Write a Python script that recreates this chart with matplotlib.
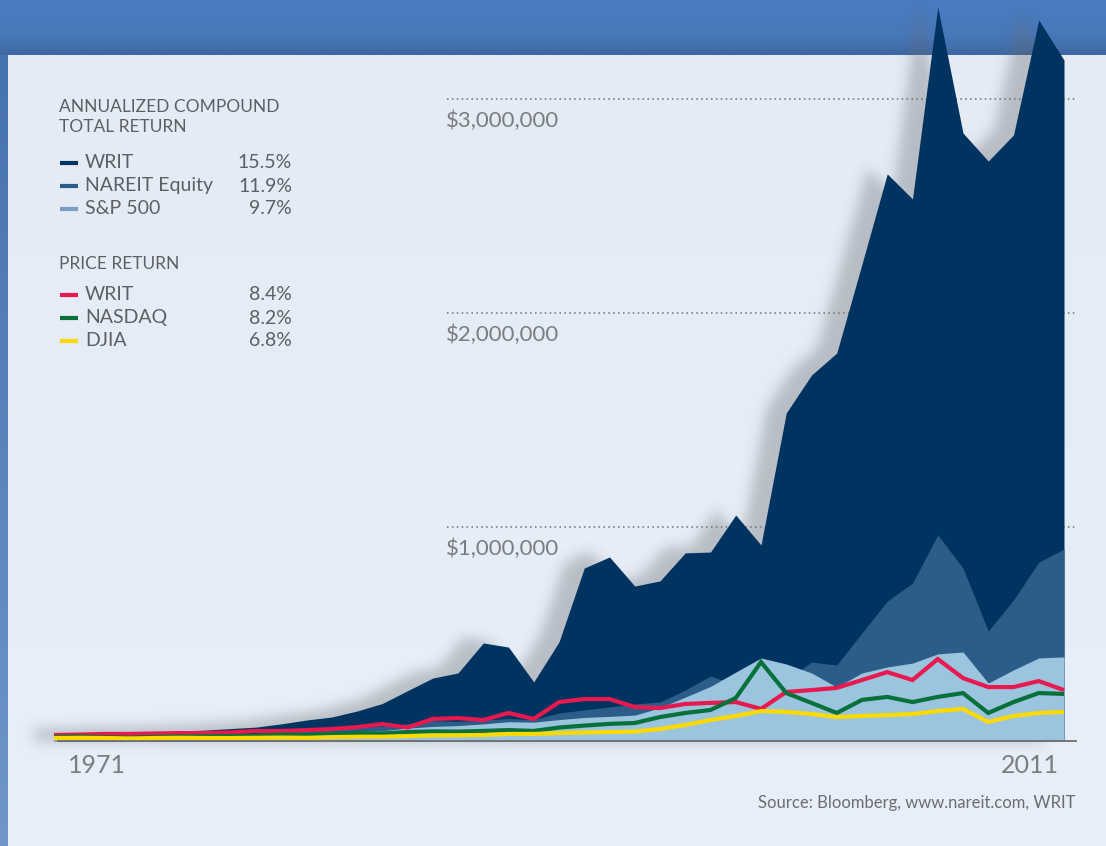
import numpy as np
import matplotlib
matplotlib.use("Agg")
import matplotlib.pyplot as plt
from matplotlib.lines import Line2D

plt.rcParams["font.family"] = ["Lato", "DejaVu Sans"]

# growth of an investment, thousands of dollars
years = list(range(1971, 2012))
writ_total = [33, 35, 37, 40, 42, 47, 51, 58, 65, 80,
              98, 112, 140, 175, 235, 294, 318, 458, 439, 276,
              463, 808, 860, 724, 748, 879, 883, 1056, 916, 1533,
              1710, 1813, 2229, 2650, 2533, 3430, 2841, 2710, 2832, 3369, 3182]
nareit = [20, 21, 19, 16, 19, 24, 27, 29, 35, 42,
          46, 53, 62, 70, 80, 95, 92, 98, 105, 100,
          131, 145, 159, 173, 182, 238, 304, 262, 238, 285,
          369, 355, 505, 654, 738, 963, 808, 514, 659, 836, 897]
sp500 = [20, 23, 20, 15, 20, 24, 23, 24, 27, 33,
         32, 38, 45, 48, 60, 68, 72, 80, 90, 88,
         100, 110, 115, 121, 155, 205, 255, 322, 388, 360,
         318, 252, 318, 346, 364, 407, 416, 271, 332, 388, 393]
writ_price = [28, 30, 33, 33, 35, 37, 37, 40, 47, 47,
              51, 56, 65, 79, 63, 103, 107, 98, 131, 103,
              182, 196, 196, 159, 154, 173, 178, 182, 150, 229,
              238, 248, 285, 322, 285, 383, 294, 252, 252, 280, 238]
nasdaq = [19, 21, 18, 16, 19, 21, 22, 23, 25, 30,
          28, 33, 37, 35, 42, 45, 44, 47, 51, 47,
          63, 72, 80, 84, 112, 131, 145, 201, 369, 224,
          178, 131, 192, 206, 182, 206, 224, 131, 182, 224, 220]
djia = [14, 15, 14, 12, 14, 15, 14, 14, 15, 16,
        15, 18, 20, 20, 23, 26, 27, 28, 33, 33,
        37, 40, 42, 44, 56, 75, 98, 117, 140, 136,
        126, 112, 117, 121, 126, 140, 150, 89, 117, 131, 136]

grid_values = [1000, 2000, 3000]
grid_labels = ["$1,000,000", "$2,000,000", "$3,000,000"]

total_names = ["WRIT", "NAREIT Equity", "S&P 500"]
total_rates = ["15.5%", "11.9%", "9.7%"]
price_names = ["WRIT", "NASDAQ", "DJIA"]
price_rates = ["8.4%", "8.2%", "6.8%"]

DARK = "#00335f"
MID = "#2b5d88"
LIGHT = "#9bc4de"
RED = "#e8194f"
GREEN = "#08703a"
YELLOW = "#fcd900"
TEXT = "#5c6066"

W, H = 1106, 846
fig = plt.figure(figsize=(W / 100, H / 100), dpi=100)


def fx(px):
    return px / W


def fy(py):
    return 1 - py / H


# ---- background: blue header, left strip, pale panel
bg = fig.add_axes([0, 0, 1, 1], zorder=0)
bg.set_xlim(0, W)
bg.set_ylim(H, 0)
bg.axis("off")

def vgrad(c0, c1, n):
    c0, c1 = np.array(c0) / 255, np.array(c1) / 255
    t = np.linspace(0, 1, n)[:, None]
    return (c0 + (c1 - c0) * t)[:, None, :]

bg.imshow(vgrad((229, 235, 245), (233, 239, 248), 200), extent=(0, W, H, 55),
          aspect="auto", interpolation="bilinear")
bg.imshow(vgrad((70, 114, 176), (110, 150, 200), 200), extent=(0, 8, H, 55),
          aspect="auto", interpolation="bilinear")
head = np.concatenate([vgrad((74, 124, 192), (72, 120, 186), 35),
                       vgrad((72, 120, 186), (62, 104, 162), 20)])
bg.imshow(head, extent=(0, W, 55, 0), aspect="auto", interpolation="bilinear")

# ---- chart axes covering the whole figure, mapped to pixel positions
px_year = 1010 / 40
px_k = 214 / 1000
ax = fig.add_axes([0, 0, 1, 1], zorder=1)
ax.patch.set_alpha(0)
ax.set_xlim(1971 - 54 / px_year, 1971 + (W - 54) / px_year)
ax.set_ylim(-(H - 741) / px_k, 741 / px_k)
ax.axis("off")

x_end = 1971 + (1077 - 54) / px_year
x_grid0 = 1971 + (447 - 54) / px_year
ax.hlines(grid_values, x_grid0, x_end, colors="#6f6f6f",
          linestyles=(0, (1, 2.2)), linewidth=1.1, zorder=2.5)
for v, lab in zip(grid_values, grid_labels):
    ax.text(x_grid0 - 0.05, v - 22 / px_k, lab, fontsize=16,
            color="#7a7d82", ha="left", va="center", zorder=1)


def blur_shadow(img, dpi):
    pad = 16
    a = np.pad(img[..., 3], pad)
    k = np.exp(-0.5 * (np.arange(-pad, pad + 1) / 4.5) ** 2)
    k /= k.sum()
    a = np.apply_along_axis(lambda r: np.convolve(r, k, mode="same"), 0, a)
    a = np.apply_along_axis(lambda r: np.convolve(r, k, mode="same"), 1, a)
    out = np.zeros(a.shape + (4,))
    out[..., 0] = 100 / 255
    out[..., 1] = 105 / 255
    out[..., 2] = 112 / 255
    out[..., 3] = np.clip(a * 0.6, 0, 1)
    return out, -pad, -pad


# drop shadow of the WRIT area, shifted left and up
yrs = np.array(years, dtype=float)
sh = ax.fill_between(yrs - 20 / px_year, 0, np.array(writ_total) + 6 / px_k,
                     color="k", lw=0, zorder=2, clip_on=False)
sh.set_agg_filter(blur_shadow)

ax.fill_between(years, 0, writ_total, color=DARK, lw=0, zorder=3)
ax.fill_between(years, 0, nareit, color=MID, lw=0, zorder=4)
ax.fill_between(years, 0, sp500, color=LIGHT, lw=0, zorder=5)

ax.plot(years, writ_price, color=RED, lw=3, zorder=6, solid_joinstyle="miter",
        solid_capstyle="butt")
ax.plot(years, nasdaq, color=GREEN, lw=3, zorder=7, solid_joinstyle="miter",
        solid_capstyle="butt")
ax.plot(years, djia, color=YELLOW, lw=3, zorder=8, solid_joinstyle="miter",
        solid_capstyle="butt")

ax.hlines(0, 1971 + 3 / px_year, x_end, colors="#6e6e6e", lw=1.3, zorder=9)

# year labels
ax.text(1971 + 14 / px_year, -24 / px_k, "1971", fontsize=18,
        color="#7a7d82", ha="left", va="center")
ax.text(2011 - 5 / px_year, -24 / px_k, "2011", fontsize=18,
        color="#7a7d82", ha="right", va="center")

fig.text(fx(1075), fy(803), "Source: Bloomberg, www.nareit.com, WRIT",
         fontsize=12, color="#6a6e73", ha="right", va="center")

# ---- legend block
fig.text(fx(59), fy(107), "ANNUALIZED COMPOUND", fontsize=12.5, color=TEXT,
         ha="left", va="center")
fig.text(fx(59), fy(127), "TOTAL RETURN", fontsize=12.5, color=TEXT,
         ha="left", va="center")
fig.text(fx(59), fy(264), "PRICE RETURN", fontsize=12.5, color=TEXT,
         ha="left", va="center")

total_colors = [DARK, MID, "#7b9cc3"]
price_colors = [RED, GREEN, YELLOW]
rows = [(163, total_names, total_rates, total_colors),
        (295, price_names, price_rates, price_colors)]
for y0, names, rates, colors in rows:
    for i, (name, rate, c) in enumerate(zip(names, rates, colors)):
        py = y0 + 23 * i
        fig.add_artist(Line2D([fx(60), fx(78)], [fy(py), fy(py)], color=c,
                              lw=3, solid_capstyle="butt"))
        fig.text(fx(85), fy(py), name, fontsize=14, color=TEXT,
                 ha="left", va="center")
        fig.text(fx(292), fy(py), rate, fontsize=14, color=TEXT,
                 ha="right", va="center")

fig.savefig("out.png", dpi=100)
